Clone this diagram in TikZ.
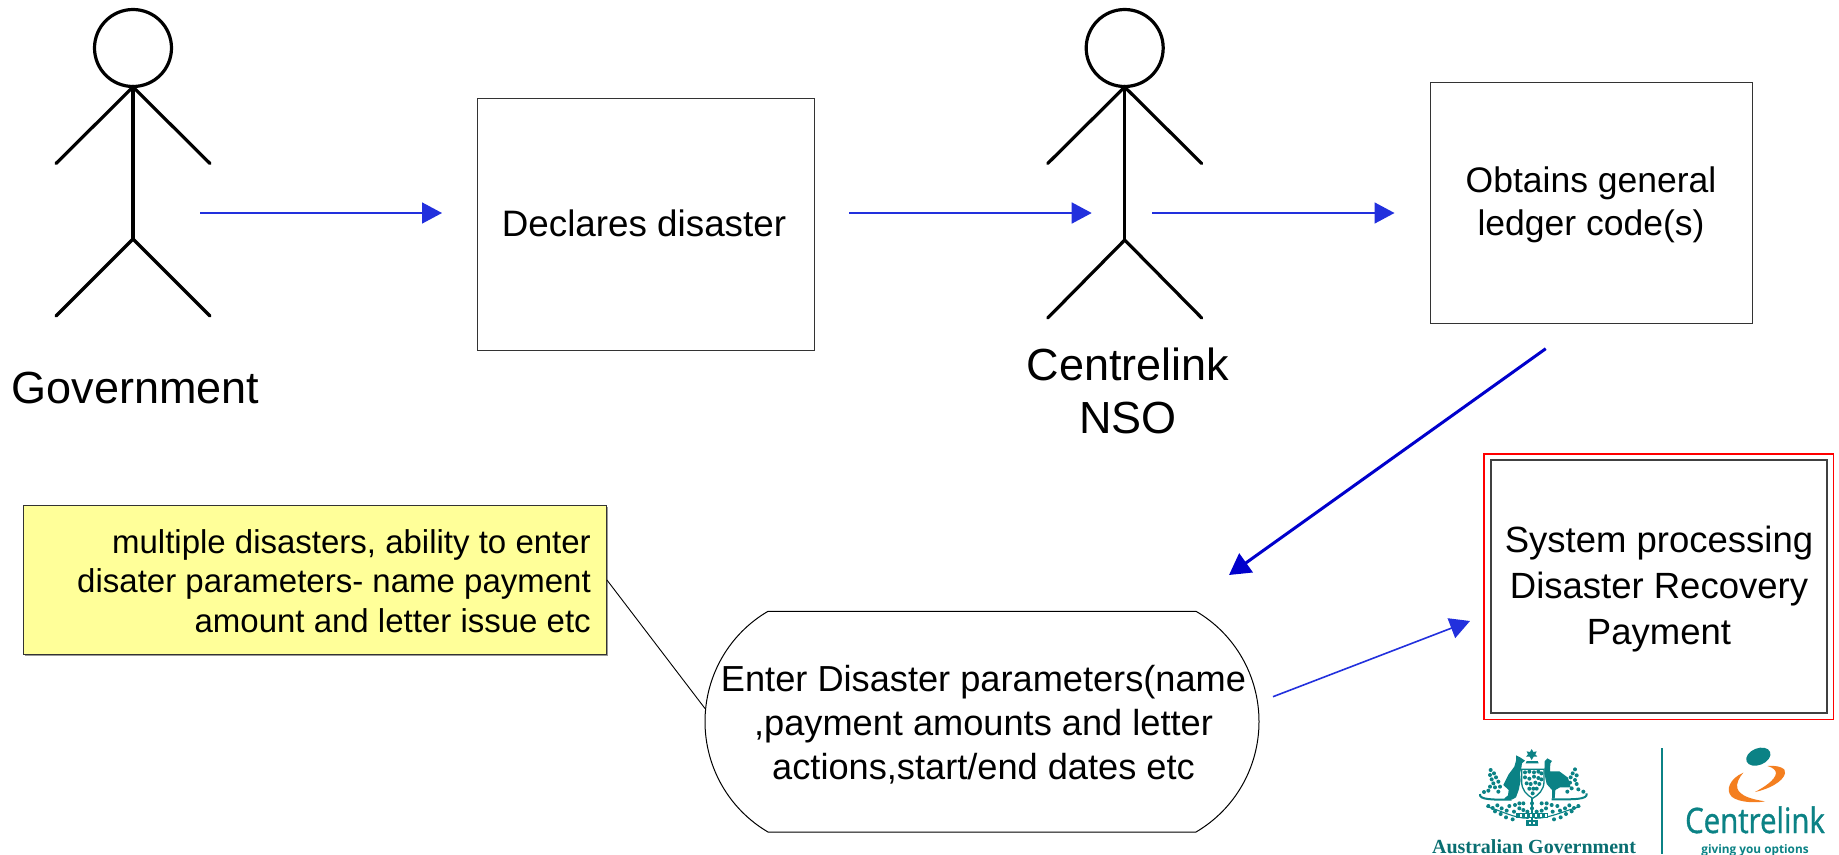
\documentclass[tikz,border=0pt]{standalone}
\usepackage{fontspec}
\setmainfont{Liberation Sans}
\newfontfamily\serifbold[BoldFont=Liberation Serif Bold]{Liberation Serif}
\newfontfamily\logosans[FakeStretch=0.84,FakeBold=1]{Open Sans}
\newfontfamily\logotag{Open Sans}
\usetikzlibrary{arrows.meta}
\definecolor{flowblue}{HTML}{2230DD}
\definecolor{darkflow}{HTML}{0000CC}
\definecolor{notefill}{HTML}{FFFF99}
\definecolor{logoteal}{HTML}{0B8285}
\definecolor{logoorange}{HTML}{F47F20}
\tikzset{
  flow/.style={draw=flowblue,line width=1.6pt,-{Triangle[length=20pt,width=21pt]}},
  darkarrow/.style={draw=darkflow,line width=3pt,-{Triangle[length=21pt,width=23pt]}},
  figure/.style={draw=black,line width=3.2pt,line cap=round},
  stepbox/.style={draw=black!80,line width=.9pt,inner sep=0pt,outer sep=0pt},
  steptext/.style={inner sep=0pt,outer sep=0pt,align=center,font=\fontsize{36.5}{43}\selectfont},
  caption/.style={inner sep=0pt,outer sep=0pt,align=center,font=\fontsize{45}{53}\selectfont},
  tealblob/.style={fill=logoteal},
  tealstem/.style={draw=logoteal,line width=1.1pt,line cap=round}
}
\newcommand{\stickman}[3]{%
  \draw[figure] (#1,48) circle[radius=38.5];
  \draw[figure] (#1,87) -- (#1,#2);
  \draw[figure] (#1-77,163.5) -- (#1,87) -- (#1+77,163.5);
  \draw[figure] (#1-77,#3) -- (#1,#2) -- (#1+77,#3);
}
\begin{document}
\begin{tikzpicture}[x=1pt,y=-1pt]
\useasboundingbox (0,0) rectangle (1839,854);
\fill[white] (0,0) rectangle (1839,854);

% actors
\stickman{133}{239}{316}
\stickman{1124.7}{240}{318}
\node[caption,anchor=base] (gov) at (135.5,403) {Government};
\node[caption,anchor=center] (nso) at (1128,391) {Centrelink\\NSO};

% boxes
\node[stepbox,minimum width=337pt,minimum height=252pt] (declare) at (646.4,224) {};
\node[steptext,font=\fontsize{36.8}{43}\selectfont] (declaretext) at (644,223.5) {Declares disaster};
\node[stepbox,minimum width=322pt,minimum height=241pt] (ledger) at (1591,202.5) {};
\node[steptext,font=\fontsize{35.5}{43.5}\selectfont] (ledgertext) at (1591,205) {Obtains general\\ledger code(s)};
\node[draw=red,line width=1.5pt,minimum width=349.5pt,minimum height=265.5pt,inner sep=0pt] (sysouter) at (1658.5,586.5) {};
\node[stepbox,draw=black!75,line width=1.2pt,minimum width=336pt,minimum height=253pt] (system) at (1659,586.5) {};
\node[steptext,font=\fontsize{36.5}{45.7}\selectfont] (systemtext) at (1659,589) {System processing\\Disaster Recovery\\Payment};

% terminator
\draw[black,line width=1pt,fill=white]
  (768,611.3) -- (1196,611.3)
  .. controls (1235.1,634.1) and (1259,676.1) .. (1259,721.6)
  .. controls (1259,767.1) and (1235.1,809.1) .. (1196,832)
  -- (768,832)
  .. controls (728.9,809.1) and (705,767.1) .. (705,721.6)
  .. controls (705,676.1) and (728.9,634.1) .. (768,611.3) -- cycle;
\node[inner sep=0pt,align=center,font=\fontsize{36.2}{44}\selectfont] (params) at (983.5,724.5)
  {Enter Disaster parameters(name\\,payment amounts and letter\\actions,start/end dates etc};

% note
\fill[black!40] (25,507) rectangle (607.5,656);
\node[draw=black!80,line width=.9pt,fill=notefill,minimum width=583pt,minimum height=149.5pt,inner sep=0pt] (note) at (315,580) {};
\node[inner sep=0pt,align=right,anchor=east,font=\fontsize{33}{39.2}\selectfont] (notetext) at (591,581)
  {multiple disasters, ability to enter\hspace{4pt}\\disater parameters- name payment\\amount and letter issue etc\hspace{1pt}};

% connector end points
\coordinate (a1s) at (200,213);   \coordinate (a1e) at (442,213);
\coordinate (a2s) at (849,213);   \coordinate (a2e) at (1091.7,213);
\coordinate (a3s) at (1152,213);  \coordinate (a3e) at (1394.5,213);
\coordinate (a4s) at (1545.7,348.7); \coordinate (a4e) at (1229,575);
\coordinate (a5s) at (1273,696.7);   \coordinate (a5e) at (1470,621);
\coordinate (calloutend) at (705,708.5);

\draw[flow] (a1s) -- (a1e);
\draw[flow] (a2s) -- (a2e);
\draw[flow] (a3s) -- (a3e);
\draw[darkarrow] (a4s) -- (a4e);
\draw[flow] (a5s) -- (a5e);
\draw[black,line width=.9pt] (note.east) -- (calloutend);

% logo: divider and texts
\fill[logoteal] (1660.8,748) rectangle (1662.8,854);
\node[inner sep=0pt,anchor=base,text=logoteal!85!black,font=\serifbold\bfseries\fontsize{20}{20}\selectfont] (ausgov) at (1534,853) {Australian Government};
\node[inner sep=0pt,anchor=base,text=logoteal,font=\logosans\fontsize{35}{36}\selectfont] (clink) at (1755,833) {Centrelink};
\node[inner sep=0pt,anchor=base,text=logoteal,font=\logotag\bfseries\fontsize{11.8}{13}\selectfont] (clinktag) at (1755,853) {giving you options};

% Centrelink mark
\begin{scope}[shift={(1680,740)},x=.3333pt,y=-.3333pt]
  \fill[logoteal,rotate around={22:(235,50)}] (235,50) ellipse[x radius=38,y radius=25];
  \fill[logoorange] (190,98) .. controls (150,115) and (135,150) .. (155,170)
     .. controls (175,187) and (225,190) .. (255,184)
     .. controls (215,178) and (180,168) .. (172,145)
     .. controls (168,130) and (178,112) .. (190,98) -- cycle;
  \fill[logoorange] (262,78) .. controls (295,75) and (320,85) .. (315,100)
     .. controls (310,125) and (265,148) .. (225,156)
     .. controls (255,140) and (285,120) .. (288,100)
     .. controls (288,90) and (278,82) .. (262,78) -- cycle;
\end{scope}

% coat of arms
\begin{scope}[shift={(1470,740)},x=.3333pt,y=-.3333pt]
  % crest
  \fill[logoteal] (185,27) -- (190,36) -- (200,34) -- (196,43) -- (202,50) -- (191,50) -- (185,60) -- (179,50) -- (168,50) -- (174,43) -- (170,34) -- (180,36) -- cycle;
  \fill[logoteal] (170,63) -- (203,63) -- (206,70) -- (167,70) -- cycle;
  % kangaroo
  \fill[logoteal] (138,46) -- (150,52) -- (165,62) -- (156,70) -- (154,84) -- (150,100) -- (152,122)
     -- (146,150) -- (138,172) -- (128,178) -- (102,176) -- (114,166) -- (116,150)
     -- (100,135) -- (116,103) -- (133,80) -- (138,62) -- cycle;
  % emu
  \fill[logoteal] (232,55) -- (246,63) -- (241,70) -- (240,94) -- (268,94) -- (294,113) -- (302,142)
     -- (270,142) -- (256,150) -- (254,176) -- (246,176) -- (246,150) -- (230,132)
     -- (223,100) -- (224,64) -- cycle;
  % shield
  \draw[logoteal,line width=1.3pt] (155,88) -- (222,88) -- (222,125) .. controls (222,150) and (205,165) .. (188,175)
     .. controls (170,165) and (155,150) .. (155,125) -- cycle;
  \foreach \px/\py in {165/97,178/95,192/97,205/95,214/100,165/112,178/116,192/110,205/114,214/118,170/130,182/132,196/128,208/132,178/146,190/146,200/146,188/160}
    \fill[tealblob] (\px,\py) circle[radius=6];
  % foliage
  \foreach \px/\py in {62/90,72/100,60/105,78/112,65/118,85/125,70/130,90/140,75/142,60/140,55/152,42/156,85/155,315/88,308/100,320/106,302/112,315/120,300/128,320/132,305/145,325/148,340/155,292/155}
    \fill[tealblob] (\px,\py) circle[radius=6];
  % ground scroll
  \draw[logoteal,line width=2pt] (30,162) .. controls (26,180) and (70,179) .. (125,179);
  \draw[logoteal,line width=2pt] (350,160) .. controls (354,180) and (310,178) .. (245,178);
  % lower wreath
  \draw[tealstem] (50,200) .. controls (90,210) and (130,235) .. (175,235);
  \draw[tealstem] (330,200) .. controls (290,210) and (240,235) .. (195,235);
  \draw[tealstem] (186,175) -- (186,255);
  \foreach \px/\py in {55/198,68/204,82/196,75/214,95/205,110/212,92/222,118/198,132/215,108/232,128/238,148/205,160/190,148/190,135/195,
      325/198,312/204,298/196,305/214,285/205,270/212,288/222,262/198,248/215,272/232,252/238,228/205,215/190,230/190,245/195,
      186/205,186/190,172/215,200/215,160/210,215/212}
    \fill[tealblob] (\px,\py) circle[radius=6];
  \fill[tealblob] (138,218) rectangle (235,235);
  \foreach \px in {150,165,180,195,210,225}
    \fill[white] (\px,223) rectangle (\px+7,230);
  \fill[tealblob] (168,240) rectangle (205,258);
  \fill[white] (178,245) rectangle (183,252);
  \fill[white] (190,245) rectangle (195,252);
\end{scope}
\end{tikzpicture}
\end{document}
